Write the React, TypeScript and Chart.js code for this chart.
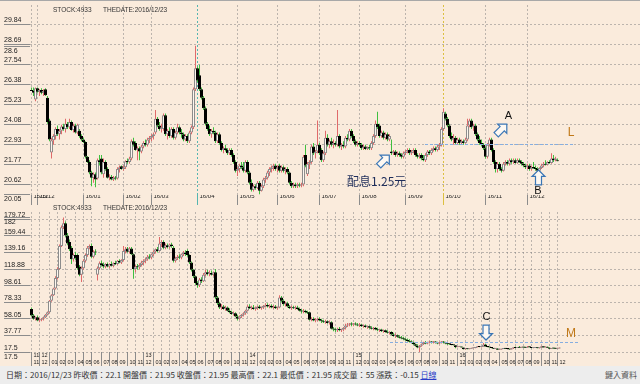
import { useEffect, useRef } from 'react';
import { Chart, registerables } from 'chart.js';

Chart.register(...registerables);

const BG = '#faebdc';
const UP_WICK = '#e06a6a';
const DOWN_WICK = '#3fbf3f';
const UP_FILL = '#fdf6ee';
const UP_LINE = '#8c8c8c';
const DOWN_BODY = '#000000';
const GRID = 'rgba(125,125,125,0.5)';
const TICK = '#8c8c8c';
const LABEL = '#222222';
const FONT = '"Liberation Sans", Arial, sans-serif';

const stockId = '4933';
const theDate = '2016/12/23';
const lastVolume = 55;

// daily candles [open, high, low, close]
const dailyCandles: number[][] = [
  [26.05,26.2,26.0,26.0],[26.0,26.2,25.7,25.9],[25.5,26.2,25.4,26.15],[26.15,26.2,25.9,25.95],[25.95,26.1,25.7,26.05],[26.05,26.15,25.8,25.9],[25.9,26.1,25.7,26.0],[26.1,26.15,25.7,25.75],[25.6,25.7,24.1,24.2],[24.3,24.4,23.1,23.2],
  [22.45,23.3,22.1,23.15],[23.15,23.5,22.9,23.4],[23.4,23.9,23.2,23.8],[23.8,24.0,23.4,23.5],[23.5,23.8,23.2,23.7],[23.7,24.05,23.5,23.95],[23.95,24.1,23.7,23.8],[23.8,24.4,23.6,24.1],[24.1,24.2,23.8,23.9],[23.9,24.4,23.8,24.2],
  [24.2,24.3,23.7,23.75],[23.75,24.1,23.6,24.0],[24.0,24.1,23.55,23.6],[23.6,24.1,23.5,24.05],[23.7,23.8,23.3,23.4],[23.4,23.5,23.1,23.2],[23.2,23.3,23.0,23.05],[23.05,23.1,22.1,22.2],[22.2,22.25,21.85,21.9],[21.9,22.0,21.2,21.3],
  [21.3,21.4,20.5,21.0],[21.0,21.3,20.7,21.2],[21.2,21.3,20.45,20.9],[20.95,22.1,20.9,22.0],[22.0,22.3,21.7,21.9],[22.1,22.3,21.2,21.3],[21.2,22.1,21.0,21.9],[21.9,22.0,21.4,21.5],[21.5,21.6,20.95,21.0],[21.0,21.2,20.85,21.05],
  [21.05,21.15,20.85,20.9],[20.9,21.1,20.8,21.0],[21.0,21.1,20.85,20.95],[20.95,21.6,20.9,21.5],[21.5,21.7,21.3,21.6],[21.65,21.7,21.45,21.5],[21.5,21.7,21.4,21.6],[21.6,22.0,21.5,21.95],[21.95,22.1,21.8,21.9],[21.9,22.2,21.8,22.1],
  [22.1,23.2,22.0,23.1],[23.1,23.3,22.8,22.9],[23.0,23.1,22.55,22.6],[22.6,22.8,22.0,22.7],[22.7,22.8,22.0,22.5],[22.5,22.9,22.4,22.8],[22.8,23.1,22.7,23.0],[23.0,23.2,22.8,22.9],[22.9,23.3,22.8,23.2],[23.2,23.4,23.0,23.3],
  [23.3,23.5,23.1,23.4],[23.4,23.6,23.2,23.5],[23.6,24.9,23.5,24.4],[24.4,24.5,23.9,24.0],[24.0,24.2,23.7,23.8],[23.8,24.1,23.6,23.9],[23.8,24.7,23.7,24.6],[24.6,24.7,23.4,23.5],[23.5,23.8,23.2,23.7],[23.7,23.9,23.3,23.4],
  [23.4,23.9,23.3,23.8],[23.8,23.9,23.2,23.3],[23.3,23.7,23.2,23.6],[23.6,24.1,23.5,23.9],[23.9,24.0,23.5,23.6],[23.6,23.8,23.3,23.5],[23.5,23.6,23.1,23.2],[23.2,23.5,23.1,23.4],[23.4,23.5,23.0,23.1],[23.1,23.7,23.0,23.6],
  [23.6,24.0,23.5,23.9],[23.9,26.2,23.8,26.1],[26.1,28.6,26.0,27.3],[27.3,27.4,26.5,26.6],[26.9,27.5,26.0,26.1],[26.1,26.2,25.5,25.6],[25.6,25.7,24.9,25.0],[25.0,25.1,24.0,24.1],[24.1,24.2,23.7,23.8],[23.8,24.0,23.4,23.5],
  [23.5,23.8,23.3,23.7],[23.7,23.9,23.5,23.6],[23.6,23.7,23.0,23.1],[23.1,23.6,23.0,23.5],[23.5,23.6,22.9,23.0],[23.0,23.1,22.5,22.6],[22.6,22.8,22.4,22.7],[22.7,22.9,22.5,22.6],[22.6,22.7,22.3,22.4],[22.4,22.7,22.3,22.6],
  [22.6,22.7,22.2,22.3],[22.3,22.4,21.8,21.9],[21.9,22.0,21.3,21.4],[21.4,21.6,21.1,21.5],[21.5,21.8,21.3,21.7],[21.7,21.9,21.5,21.6],[21.6,21.9,21.3,21.4],[21.4,22.0,21.3,21.9],[21.9,22.0,21.2,21.3],[21.3,21.4,20.6,20.7],
  [20.7,20.9,20.2,20.3],[20.3,20.6,20.2,20.5],[20.5,20.6,20.3,20.4],[20.4,20.8,20.35,20.7],[20.7,20.8,20.05,20.25],[20.25,20.6,20.2,20.5],[20.5,21.0,20.4,20.9],[20.9,21.1,20.7,21.0],[21.0,21.4,20.9,21.3],[21.3,21.6,21.1,21.5],
  [21.5,21.7,21.3,21.6],[21.6,21.8,21.4,21.7],[21.7,21.8,21.4,21.5],[21.5,21.7,21.3,21.6],[21.7,21.8,21.3,21.4],[21.4,21.7,21.3,21.6],[21.6,21.7,21.3,21.4],[21.4,21.6,21.2,21.5],[21.5,21.6,21.2,21.3],[21.3,21.35,20.6,20.7],
  [20.7,20.8,20.4,20.5],[20.5,20.7,20.4,20.6],[20.6,20.7,20.4,20.5],[20.5,20.7,20.4,20.6],[20.6,20.7,20.45,20.55],[20.55,20.7,20.45,20.6],[20.6,22.3,20.5,22.2],[22.3,22.9,21.6,21.7],[21.2,21.9,21.1,21.8],[21.8,22.0,21.5,21.9],
  [21.9,22.9,21.8,22.8],[22.8,23.0,22.3,22.4],[22.4,22.6,22.1,22.5],[22.5,24.3,22.4,22.9],[22.9,23.0,22.3,22.4],[22.6,22.7,21.9,22.0],[22.0,22.5,21.9,22.4],[22.4,23.7,22.3,23.3],[23.3,23.5,22.8,22.9],[22.9,23.2,22.7,23.1],
  [23.1,23.3,22.8,22.9],[22.9,23.2,22.7,23.0],[23.0,23.1,22.8,22.9],[22.9,24.9,22.8,23.4],[23.4,23.5,22.7,22.8],[22.8,23.0,22.6,22.9],[22.9,23.1,22.7,22.8],[22.8,23.4,22.7,23.3],[23.3,23.5,23.1,23.2],[23.2,23.8,23.1,23.7],
  [23.7,23.8,23.3,23.4],[23.4,23.5,23.0,23.1],[23.1,23.2,22.8,22.9],[22.9,23.1,22.8,23.0],[23.0,23.1,22.8,22.9],[22.9,23.0,22.6,22.7],[22.7,22.9,22.6,22.8],[22.8,22.9,22.6,22.65],[22.65,22.8,22.6,22.75],[22.75,22.9,22.6,22.7],
  [22.7,23.1,22.6,23.0],[23.0,23.5,22.9,23.4],[23.4,24.3,23.3,24.1],[24.1,24.8,23.8,23.9],[24.0,24.1,23.3,23.4],[23.4,23.7,23.3,23.6],[23.6,23.7,23.2,23.3],[23.3,23.6,23.2,23.5],[23.5,23.6,23.1,23.2],[23.2,23.5,23.1,23.4],
  [22.5,23.2,22.3,22.4],[22.4,22.6,22.3,22.5],[22.5,22.6,22.2,22.3],[22.3,22.5,22.2,22.4],[22.4,22.5,22.2,22.3],[22.3,22.4,22.1,22.2],[22.2,22.5,22.1,22.4],[22.4,22.6,22.3,22.5],[22.5,22.7,22.4,22.6],[22.6,22.7,22.3,22.4],
  [22.4,22.6,22.3,22.5],[22.5,22.7,22.4,22.6],[22.6,22.7,22.2,22.3],[22.3,22.4,22.1,22.2],[22.2,22.4,22.1,22.3],[22.3,22.4,22.0,22.1],[22.1,22.3,21.95,22.0],[22.0,22.4,21.9,22.3],[22.3,22.6,22.2,22.5],[22.5,22.6,22.3,22.4],
  [22.4,22.7,22.3,22.6],[22.6,22.8,22.5,22.7],[22.7,22.8,22.5,22.6],[22.6,22.9,22.5,22.8],[22.8,23.0,22.6,22.9],[22.9,23.9,22.8,23.8],[23.8,25.0,23.7,24.8],[24.7,24.8,24.3,24.4],[24.4,24.5,23.9,24.0],[24.0,24.1,23.3,23.4],
  [23.4,23.6,23.1,23.2],[23.2,23.5,22.9,23.3],[23.3,23.4,22.9,23.0],[23.0,23.3,22.9,23.2],[23.2,23.3,22.9,23.0],[23.0,23.2,22.9,23.1],[23.1,23.2,22.9,23.0],[23.0,23.3,22.95,23.2],[23.2,24.4,23.1,24.0],[24.0,24.4,23.9,24.3],
  [24.3,24.4,23.8,23.9],[23.9,24.1,23.7,24.0],[24.0,24.1,23.4,23.5],[23.5,23.6,23.1,23.2],[23.2,23.4,22.9,23.0],[23.0,23.2,22.8,22.9],[22.9,23.0,22.6,22.7],[22.7,22.8,22.1,22.2],[22.2,23.0,22.1,22.9],[22.9,23.3,22.8,23.2],
  [23.2,23.3,22.5,22.6],[22.6,22.7,21.8,21.9],[21.9,22.0,21.3,21.5],[21.5,21.9,21.3,21.8],[21.8,21.9,21.4,21.5],[21.5,21.6,21.3,21.4],[21.4,21.9,21.35,21.8],[21.8,22.0,21.7,21.9],[21.9,22.0,21.7,21.8],[21.8,22.1,21.7,22.0],
  [22.0,22.1,21.8,21.9],[21.9,22.1,21.8,22.0],[22.0,22.1,21.8,21.85],[21.85,22.1,21.8,22.0],[22.0,22.1,21.85,21.9],[21.9,22.0,21.7,21.8],[21.8,21.9,21.6,21.7],[21.7,21.8,21.5,21.6],[21.6,21.8,21.5,21.7],[21.7,21.8,21.4,21.5],
  [21.5,21.7,21.4,21.6],[21.6,21.9,21.5,21.55],[21.55,21.7,21.4,21.5],[21.5,21.6,21.35,21.4],[21.4,21.6,21.35,21.55],[21.55,21.8,21.5,21.7],[21.7,21.9,21.6,21.8],[21.8,22.0,21.7,21.75],[21.75,21.95,21.7,21.9],[21.9,22.0,21.8,21.85],
  [21.85,22.4,21.8,22.1],[22.1,22.3,21.9,22.0],[22.0,22.2,21.95,22.1],[21.95,22.1,21.95,21.95],
];
const dailyMonthTicks = [0, 3, 26, 46, 60, 83, 103, 123, 144, 164, 187, 206, 227, 248];
const dailyMonthLabels = ['15/11', '15/12', '16/01', '16/02', '16/03', '16/04', '16/05', '16/06', '16/07', '16/08', '16/09', '16/10', '16/11', '16/12'];
const dailyPriceTicks = [20.62, 21.77, 22.93, 24.08, 25.23, 26.38, 27.54, 28.69, 29.84];
const dailyMarkedMonths: Record<number, string> = { 5: '#55b5b0', 11: '#dcc040' };

// weekly candles [open, high, low, close]
const weeklyCandles: number[][] = [
  [70,72,61,62],[62,64,57,58],[58,61,56,60],[60,62,55,56],[56,59,54,57],[57,59,55,58],[58,61,56,60],[60,64,59,63],[63,67,62,66],[66,81,65,80],
  [80,88,79,87],[87,96,86,95],[95,110,94,108],[108,121,106,119],[119,149,118,147],[147,172,146,170],[170,182,168,175],[175,177,158,160],[160,163,148,150],[152,155,141,143],
  [145,147,125,131],[131,138,128,136],[136,140,130,132],[136,138,118,120],[122,124,110,112],[112,122,103,120],[120,131,118,129],[129,138,127,136],[136,147,134,145],[145,149,143,147],
  [147,150,132,134],[134,142,132,140],[140,143,136,139],[112,122,105,120],[120,128,118,126],[126,129,122,124],[124,127,120,122],[122,126,120,125],[125,127,121,122],[122,126,120,125],
  [125,128,122,123],[123,127,121,126],[126,129,124,125],[125,130,124,129],[129,131,126,127],[127,131,125,130],[130,147,128,141],[141,146,138,143],[144,146,139,140],[140,146,138,144],
  [144,146,136,137],[137,138,107,119],[119,124,115,122],[122,125,118,121],[121,126,119,124],[124,129,122,127],[127,131,124,129],[129,133,126,131],[131,136,129,134],[134,137,131,133],
  [133,138,131,137],[137,142,135,140],[140,144,138,143],[143,146,139,141],[141,158,140,150],[150,154,146,152],[152,154,143,145],[145,150,143,148],[148,150,144,146],[146,150,144,149],
  [149,151,145,147],[145,147,127,129],[129,134,127,132],[132,136,130,134],[134,137,131,133],[133,138,131,137],[137,141,135,139],[139,142,135,137],[141,143,134,136],[136,137,125,127],
  [127,128,116,118],[118,119,108,110],[110,111,100,102],[102,104,96,99],[99,108,97,106],[106,109,102,104],[104,114,103,112],[112,118,110,115],[115,118,111,113],[113,117,110,114],
  [114,117,111,112],[112,116,110,115],[115,119,82,84],[84,86,75,77],[77,79,70,72],[72,76,69,73],[73,75,69,70],[70,74,68,72],[72,73,67,68],[68,71,65,66],
  [66,68,63,64],[64,67,62,65],[65,66,60,61],[61,63,56,58],[58,62,57,61],[61,64,59,63],[63,66,61,65],[65,69,63,68],[68,75,67,73],[73,76,70,71],
  [71,74,69,72],[72,75,69,70],[70,73,68,71],[71,74,69,73],[73,75,70,71],[71,73,69,72],[72,75,70,74],[74,77,72,75],[75,77,72,73],[73,76,71,74],
  [74,76,71,72],[72,75,70,73],[73,75,70,71],[71,73,69,72],[72,87,71,84],[84,86,78,80],[80,82,74,76],[76,79,73,77],[77,79,72,73],[73,75,70,71],
  [71,74,69,72],[72,74,70,71],[71,74,69,72],[72,74,69,70],[70,72,67,68],[68,70,65,67],[67,70,65,68],[68,69,65,66],[66,68,64,65],[66,67,56,57],
  [57,60,55,58],[58,60,55,56],[56,59,54,57],[57,59,55,58],[58,60,55,56],[56,58,53,55],[55,57,53,54],[54,57,52,55],[55,56,52,53],[53,56,51,54],
  [54,55,45,46],[46,48,43,45],[45,47,42,44],[44,47,42,46],[46,48,43,44],[44,46,42,45],[45,48,43,47],[47,52,45,50],[50,53,48,51],[51,53,49,52],
  [52,54,49,51],[51,53,49,52],[52,54,50,51],[51,53,49,50],[50,53,48,51],[51,52,48,49],[49,51,47,50],[50,51,47,48],[48,50,46,49],[49,50,46,47],
  [47,49,45,46],[46,48,44,47],[47,48,44,45],[45,47,43,44],[44,46,42,45],[45,46,42,43],[43,45,41,44],[44,45,41,42],[42,44,40,41],[41,43,39,42],
  [42,43,38,39],[39,41,36,37],[37,40,35,38],[38,39,35,36],[36,38,34,35],[35,37,33,34],[34,36,32,33],[33,35,31,32],[32,34,30,31],[31,33,29,30],
  [30,32,28,29],[29,30,26,27],[27,28,24,25],[25,27,22,23],[23,26,17.5,25],[25,28,24,27],[27,30,26,29],[29,31,27,28],[28,30,27,29],[29,31,28,30],
  [30,31,28,29],[29,31,28,30],[30,31,28,29],[29,30,27,28],[28,30,27,29],[29,31,28,30],[30,31,28,29],[29,30,27,28],[28,29,26,27],[27,28,26,27],
  [26.5,27,25.8,26.0],[26.0,26.2,25.4,25.75],[25.6,25.7,22.1,23.4],[23.4,24.1,23.2,23.8],[23.8,24.4,23.55,24.05],[24.0,24.1,23.0,23.05],[23.05,23.1,20.5,21.0],[21.0,22.3,20.45,21.3],[21.2,22.1,20.85,20.9],[20.9,21.7,20.8,21.5],
  [21.5,22.2,21.4,22.1],[22.1,23.3,22.0,22.5],[22.5,23.4,22.0,23.3],[23.3,24.9,23.1,24.0],[24.0,24.7,23.2,23.5],[23.5,24.1,23.0,23.9],[23.9,28.6,23.8,26.6],[26.6,27.5,24.0,24.1],[24.1,24.2,23.3,23.6],[23.6,23.9,22.9,23.0],
  [23.0,23.1,22.2,22.3],[22.3,22.4,21.1,21.5],[21.5,22.0,21.3,21.9],[21.9,22.0,20.2,20.4],[20.4,20.8,20.05,20.5],[20.5,21.4,20.4,21.3],[21.3,21.8,21.1,21.7],[21.7,21.8,21.3,21.6],[21.6,21.7,21.2,21.3],[21.3,21.35,20.4,20.55],
  [20.55,22.3,20.45,22.2],[22.2,22.9,21.1,22.8],[22.8,24.3,22.0,22.4],[22.4,23.7,22.3,22.9],[22.9,24.9,22.7,22.8],[22.8,23.8,22.6,23.4],[23.4,23.5,22.8,22.9],[22.9,23.0,22.6,22.7],[22.7,24.8,22.6,23.9],[23.9,24.1,23.1,23.4],
  [22.5,22.6,22.2,22.3],[22.3,22.5,22.1,22.4],[22.4,22.7,22.3,22.6],[22.6,22.7,21.95,22.0],[22.0,22.8,21.9,22.7],[22.7,25.0,22.5,24.4],[24.4,24.5,22.9,23.0],[23.0,24.4,22.9,24.0],[24.0,24.1,22.6,22.7],[22.7,23.3,21.3,21.5],
  [21.5,22.1,21.3,21.9],[21.9,22.1,21.6,21.7],[21.7,21.9,21.35,21.55],[21.55,22.0,21.5,21.9],[21.9,22.4,21.8,21.95],
];
const weeklyMonthTicks = [
  0, 4,
  9, 13, 17, 22, 26, 30, 35, 39, 43, 48, 52, 56,
  61, 65, 69, 74, 78, 82, 87, 91, 95, 100, 104, 108,
  113, 117, 121, 126, 130, 135, 139, 143, 148, 152, 156, 161,
  165, 169, 173, 178, 182, 187, 191, 195, 199, 204, 208, 213,
  217, 221, 225, 229, 234, 238, 242, 246, 250, 255, 259, 263,
];
const weeklyMonthLabels = [
  '11', '12',
  '01','02','03','04','05','06','07','08','09','10','11','12',
  '01','02','03','04','05','06','07','08','09','10','11','12',
  '01','02','03','04','05','06','07','08','09','10','11','12',
  '01','02','03','04','05','06','07','08','09','10','11','12',
  '01','02','03','04','05','06','07','08','09','10','11','12',
];
const weeklyYearLabels: Record<number, string> = { 0: '11', 1: '12', 13: '13', 25: '14', 37: '15', 49: '16' };
const weeklyPriceTicks = [17.5, 37.77, 58.05, 78.33, 98.61, 118.88, 139.16, 159.44, 179.72];

type Annot =
  | { kind: 'text'; text: string; x: number; y: number; color: string; font: string; align?: CanvasTextAlign }
  | { kind: 'arrow'; x: number; y: number; angle: number }
  | { kind: 'hline'; x0: number; x1: number; y: number; color: string };

const dailyAnnots: Annot[] = [
  { kind: 'hline', x0: 196.75, x1: 270.75, y: 22.94, color: '#86aee0' },
  { kind: 'text', text: '配息1.25元', x: 157.75, y: 20.81, color: '#1e2d5a', font: '12px "Noto Sans CJK TC"', align: 'left' },
  { kind: 'arrow', x: 176.25, y: 21.99, angle: 45 },
  { kind: 'text', text: 'A', x: 238.5, y: 24.58, color: '#111111', font: `11px ${FONT}` },
  { kind: 'arrow', x: 235, y: 23.78, angle: 45 },
  { kind: 'text', text: 'L', x: 269.75, y: 23.57, color: '#c07818', font: `12px ${FONT}` },
  { kind: 'arrow', x: 253.5, y: 21.01, angle: 0 },
  { kind: 'text', text: 'B', x: 253.25, y: 20.23, color: '#111111', font: `11px ${FONT}` },
];
const weeklyAnnots: Annot[] = [
  { kind: 'hline', x0: 179.25, x1: 273.25, y: 29.7, color: '#86aee0' },
  { kind: 'text', text: 'C', x: 227.5, y: 60.9, color: '#111111', font: `11px ${FONT}` },
  { kind: 'arrow', x: 227.25, y: 41.3, angle: 180 },
  { kind: 'text', text: 'M', x: 269.75, y: 40.1, color: '#c07818', font: `12px ${FONT}` },
];

interface Panel {
  candles: number[][];
  xTicks: number[];
  xLabel: (i: number) => string | string[];
  xFont: number;
  xLineHeight: number;
  xAxisHeight: number;
  xLabelShift: number;
  marked: Record<number, string>;
  yTicks: number[];
  yMin: number;
  yMax: number;
  padTop: number;
  annots: Annot[];
}

function drawArrow(ctx: CanvasRenderingContext2D, px: number, py: number, deg: number) {
  const pts = [[0, -7.5], [6.5, -1], [3, -1], [3, 7.5], [-3, 7.5], [-3, -1], [-6.5, -1]];
  ctx.save();
  ctx.translate(px, py);
  ctx.rotate((deg * Math.PI) / 180);
  ctx.beginPath();
  pts.forEach(([a, b], k) => (k ? ctx.lineTo(a, b) : ctx.moveTo(a, b)));
  ctx.closePath();
  ctx.fillStyle = '#fdf8f2';
  ctx.fill();
  ctx.strokeStyle = '#3a76b6';
  ctx.lineWidth = 1.2;
  ctx.stroke();
  ctx.restore();
}

function makePanel(canvas: HTMLCanvasElement, p: Panel) {
  const up = p.candles.map((c) => c[3] > c[0]);
  const hi = Math.max(...p.candles.map((c) => c[1]));
  const lo = Math.min(...p.candles.map((c) => c[2]));
  const overlay = {
    id: 'overlay',
    afterDatasetsDraw(chart: any) {
      const { ctx, scales } = chart;
      const xs = scales.x;
      const ys = scales.y;
      for (const a of p.annots) {
        if (a.kind === 'hline') {
          const py = Math.round(ys.getPixelForValue(a.y)) + 0.5;
          ctx.save();
          ctx.strokeStyle = a.color;
          ctx.lineWidth = 1;
          ctx.setLineDash([3, 2]);
          ctx.beginPath();
          ctx.moveTo(xs.getPixelForValue(a.x0), py);
          ctx.lineTo(xs.getPixelForValue(a.x1), py);
          ctx.stroke();
          ctx.restore();
        } else if (a.kind === 'arrow') {
          drawArrow(ctx, xs.getPixelForValue(a.x), ys.getPixelForValue(a.y), a.angle);
        } else {
          ctx.save();
          ctx.font = a.font;
          ctx.fillStyle = a.color;
          ctx.textAlign = a.align || 'center';
          ctx.textBaseline = 'middle';
          ctx.fillText(a.text, xs.getPixelForValue(a.x), ys.getPixelForValue(a.y));
          ctx.restore();
        }
      }
    },
    afterDraw(chart: any) {
      const { ctx, scales } = chart;
      const ys = scales.y;
      ctx.save();
      ctx.font = `7px ${FONT}`;
      ctx.fillStyle = LABEL;
      ctx.strokeStyle = TICK;
      ctx.lineWidth = 1;
      ctx.textAlign = 'left';
      ctx.textBaseline = 'top';
      for (const v of [hi, lo]) {
        const py = Math.round(ys.getPixelForValue(v)) + 0.5;
        ctx.beginPath();
        ctx.moveTo(4, py);
        ctx.lineTo(30, py);
        ctx.stroke();
        ctx.fillText(String(v), 4, py + 1);
      }
      ctx.restore();
    },
  };
  return new Chart(canvas, {
    type: 'bar',
    data: {
      datasets: [
        {
          label: 'body',
          order: 0,
          data: p.candles.map((c, i) => ({ x: i, y: [Math.min(c[0], c[3]), Math.max(c[0], c[3])] })) as any,
          backgroundColor: up.map((u) => (u ? UP_FILL : DOWN_BODY)),
          borderColor: up.map((u) => (u ? UP_LINE : DOWN_BODY)),
          borderWidth: 1,
          borderSkipped: false,
          barThickness: 3,
          grouped: false,
          minBarLength: 1,
          inflateAmount: 0,
        } as any,
        {
          label: 'wick',
          order: 1,
          data: p.candles.map((c, i) => ({ x: i, y: [c[2], c[1]] })) as any,
          backgroundColor: up.map((u) => (u ? UP_WICK : DOWN_WICK)),
          borderWidth: 0,
          barThickness: 1,
          grouped: false,
          minBarLength: 1,
          inflateAmount: 0,
        } as any,
      ],
    },
    options: {
      responsive: false,
      animation: false,
      devicePixelRatio: 1,
      events: [],
      layout: { padding: { left: 4, top: p.padTop, right: 0, bottom: 0 } },
      plugins: { legend: { display: false }, tooltip: { enabled: false } },
      scales: {
        x: {
          type: 'linear',
          min: -0.75,
          max: 304.25,
          offset: false,
          afterBuildTicks: (s: any) => {
            s.ticks = p.xTicks.map((v) => ({ value: v }));
          },
          afterFit: (s: any) => {
            s.height = p.xAxisHeight;
          },
          grid: {
            offset: false,
            color: (c: any) => p.marked[c.index] || GRID,
            tickColor: (c: any) => p.marked[c.index] || TICK,
            tickLength: p.xAxisHeight,
            lineWidth: 1,
          },
          border: { display: false, dash: [2, 2] },
          ticks: {
            autoSkip: false,
            maxRotation: 0,
            minRotation: 0,
            align: 'start',
            labelOffset: 2,
            padding: -p.xAxisHeight - p.xLabelShift,
            font: { family: FONT, size: p.xFont, lineHeight: p.xLineHeight },
            color: LABEL,
            callback: (_v: any, i: number) => p.xLabel(i),
          },
        } as any,
        y: {
          type: 'linear',
          position: 'left',
          min: p.yMin,
          max: p.yMax,
          afterBuildTicks: (s: any) => {
            s.ticks = p.yTicks.map((v) => ({ value: v }));
          },
          afterFit: (s: any) => {
            s.width = 26;
          },
          grid: { color: GRID, tickColor: TICK, tickLength: 26, lineWidth: 1 },
          border: { display: false, dash: [2, 2] },
          ticks: {
            crossAlign: 'far',
            labelOffset: -4,
            padding: 0,
            font: { family: FONT, size: 7 },
            color: LABEL,
            callback: (v: any) => String(v),
          },
        } as any,
      },
    },
    plugins: [overlay],
  });
}

export default function App() {
  const topRef = useRef<HTMLCanvasElement>(null);
  const botRef = useRef<HTMLCanvasElement>(null);

  useEffect(() => {
    const top = makePanel(topRef.current!, {
      candles: dailyCandles,
      xTicks: dailyMonthTicks,
      xLabel: (i) => dailyMonthLabels[i],
      xFont: 6,
      xLineHeight: 1.2,
      xAxisHeight: 10,
      xLabelShift: 2,
      marked: dailyMarkedMonths,
      yTicks: dailyPriceTicks,
      yMin: 20.0,
      yMax: 30.95,
      padTop: 5,
      annots: dailyAnnots,
    });
    const bot = makePanel(botRef.current!, {
      candles: weeklyCandles,
      xTicks: weeklyMonthTicks,
      xLabel: (i) => [weeklyYearLabels[i] || '', weeklyMonthLabels[i]],
      xFont: 5.5,
      xLineHeight: 1.3,
      xAxisHeight: 14,
      xLabelShift: 0,
      marked: {},
      yTicks: weeklyPriceTicks,
      yMin: 17.5,
      yMax: 188.64,
      padTop: 7,
      annots: weeklyAnnots,
    });
    return () => {
      top.destroy();
      bot.destroy();
    };
  }, []);

  const last = dailyCandles[dailyCandles.length - 1];
  const prevClose = dailyCandles[dailyCandles.length - 2][3];
  const change = (last[3] - prevClose).toFixed(2);

  const header = (top: number) => (
    <div style={{ position: 'absolute', left: 0, top, width: 640, height: 8, font: `6.5px ${FONT}`, color: '#333', lineHeight: '8px' }}>
      <span style={{ position: 'absolute', left: 53 }}>STOCK:{stockId}</span>
      <span style={{ position: 'absolute', left: 103 }}>THEDATE:{theDate}</span>
    </div>
  );

  return (
    <div style={{ position: 'fixed', left: 0, top: 0, width: 640, height: 384, background: BG, overflow: 'hidden' }}>
      <div style={{ position: 'absolute', left: 0, top: 0, width: 640, height: 1, background: '#a8a8a8' }} />
      <canvas ref={topRef} width={640} height={205} style={{ position: 'absolute', left: 0, top: 0 }} />
      <canvas ref={botRef} width={640} height={161} style={{ position: 'absolute', left: 0, top: 205 }} />
      {header(6)}
      {header(204)}
      <div style={{ position: 'absolute', left: 0, top: 366, width: 640, height: 18, background: '#ededed', font: '8px "Noto Sans CJK TC"', color: '#333', lineHeight: '18px', whiteSpace: 'nowrap' }}>
        <span style={{ position: 'absolute', left: 6 }}>
          日期：{theDate} 昨收價：{prevClose} 開盤價：{last[0]} 收盤價：{last[3]} 最高價：{last[1]} 最低價：{last[2]} 成交量：{lastVolume} 漲跌：{change}{' '}
          <span style={{ color: '#2a3bc8', textDecoration: 'underline' }}>日線</span>
        </span>
        <span style={{ position: 'absolute', right: 3, color: '#555' }}>鍵入資料</span>
      </div>
    </div>
  );
}
